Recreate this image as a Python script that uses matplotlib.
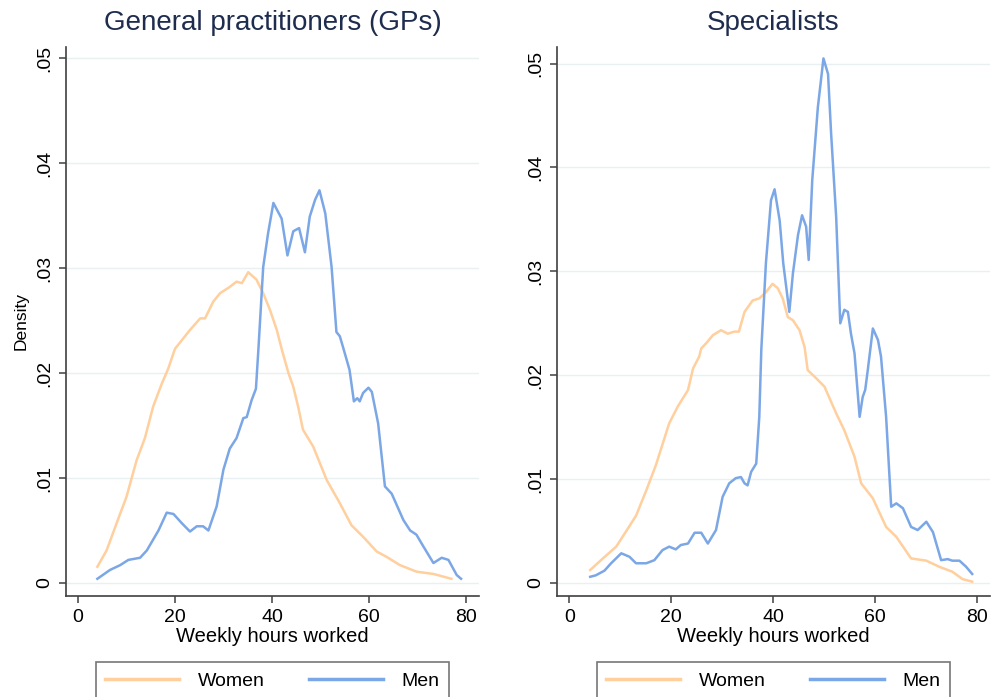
import numpy as np
import matplotlib.pyplot as plt

plt.rcParams['font.family'] = ['Liberation Sans', 'DejaVu Sans']

# GPs, women (weekly hours, density)
gp_w_h = [4.0, 5.9, 8.7, 10.0, 12.1, 13.8, 15.5, 17.3, 18.6, 20.0, 23.1, 25.2, 26.2, 27.9,
          29.3, 31.3, 32.7, 33.8, 35.1, 36.8, 38.2, 39.6, 41.0, 42.0, 43.4, 44.4, 45.4,
          46.4, 48.5, 51.3, 54.0, 56.4, 58.8, 61.6, 63.6, 66.4, 69.8, 73.3, 77.0]
gp_w_d = [0.00155, 0.0031, 0.0066, 0.0082, 0.0117, 0.0138, 0.0168, 0.0190, 0.0204, 0.0223,
          0.0241, 0.0252, 0.0252, 0.0268, 0.0276, 0.0282, 0.0287, 0.02855, 0.0296, 0.0289,
          0.0276, 0.0260, 0.0241, 0.0223, 0.0200, 0.0187, 0.0168, 0.0146, 0.0130, 0.0098,
          0.0076, 0.0055, 0.0044, 0.0030, 0.0025, 0.0017, 0.00108, 0.00086, 0.0004]

# GPs, men
gp_m_h = [4.0, 6.6, 8.7, 10.4, 12.8, 14.2, 16.6, 18.3, 19.7, 21.4, 23.1, 24.5, 25.8, 26.9,
          28.6, 30.0, 31.3, 32.7, 34.1, 34.8, 35.8, 36.7, 37.2, 38.2, 39.2, 40.3, 42.0,
          43.2, 44.4, 45.6, 46.8, 47.8, 48.9, 49.8, 51.0, 52.3, 53.3, 54.0, 54.7, 56.0,
          56.9, 57.6, 58.1, 58.8, 59.9, 60.6, 61.9, 63.3, 64.7, 67.1, 68.5, 69.8, 71.2,
          73.3, 75.0, 76.4, 78.1, 79.0]
gp_m_d = [0.0004, 0.00124, 0.0017, 0.0022, 0.0024, 0.0031, 0.0050, 0.0067, 0.00657, 0.0057,
          0.0049, 0.0054, 0.0054, 0.0050, 0.0073, 0.0108, 0.0128, 0.0138, 0.0157, 0.0158,
          0.0174, 0.0185, 0.0222, 0.0301, 0.0333, 0.0362, 0.0347, 0.0312, 0.0335, 0.0338,
          0.0315, 0.0349, 0.0365, 0.0374, 0.0352, 0.0301, 0.0239, 0.0235, 0.0224, 0.0203,
          0.0173, 0.0176, 0.0173, 0.0181, 0.0186, 0.0182, 0.0152, 0.0092, 0.0085, 0.0060,
          0.0050, 0.0046, 0.0035, 0.0019, 0.0024, 0.0022, 0.00076, 0.0004]

# Specialists, women
sp_w_h = [4.1, 6.6, 9.2, 11.1, 13.1, 15.1, 17.0, 19.6, 21.3, 23.3, 24.3, 25.5, 25.9, 26.9,
          28.2, 29.8, 31.1, 32.4, 33.3, 34.4, 36.0, 37.3, 38.6, 39.9, 40.9, 41.9, 42.9,
          43.9, 45.2, 46.2, 46.8, 48.5, 50.1, 52.4, 54.0, 56.0, 57.3, 59.6, 62.2, 64.2,
          67.1, 70.1, 72.6, 75.2, 77.2, 79.1]
sp_w_d = [0.00125, 0.00237, 0.0035, 0.00494, 0.00648, 0.0089, 0.01135, 0.01536, 0.0170,
          0.01857, 0.02066, 0.0218, 0.02258, 0.0231, 0.02386, 0.02434, 0.0240, 0.0242,
          0.0242, 0.0261, 0.0272, 0.0274, 0.0280, 0.0288, 0.0284, 0.0274, 0.0256, 0.0253,
          0.02434, 0.0227, 0.0205, 0.0197, 0.0189, 0.01633, 0.0147, 0.01215, 0.0096,
          0.00815, 0.0054, 0.00445, 0.00237, 0.00215, 0.00157, 0.00109, 0.00038, 0.00013]

# Specialists, men
sp_m_h = [4.1, 5.2, 6.9, 8.2, 10.2, 11.8, 13.1, 15.1, 16.7, 18.3, 19.6, 20.9, 21.9, 23.3,
          24.6, 25.9, 27.2, 28.8, 30.1, 31.4, 32.7, 33.7, 34.4, 35.0, 35.7, 36.7, 37.3,
          37.7, 38.6, 39.6, 40.3, 41.3, 42.0, 43.2, 43.9, 44.9, 45.7, 46.5, 47.0, 47.7,
          48.8, 49.9, 50.8, 51.4, 52.4, 53.2, 54.0, 54.7, 55.3, 56.0, 57.0, 57.6, 58.1,
          58.6, 59.6, 60.6, 61.2, 62.2, 63.2, 64.2, 65.5, 67.1, 68.4, 70.1, 71.4, 73.0,
          74.3, 75.2, 76.6, 77.9, 79.1]
sp_m_d = [0.0006, 0.00074, 0.00119, 0.0019, 0.00286, 0.00253, 0.0019, 0.0019, 0.0022,
          0.00317, 0.0035, 0.00324, 0.00366, 0.0038, 0.00484, 0.00484, 0.0038, 0.0051,
          0.0083, 0.0096, 0.0101, 0.0102, 0.0096, 0.0094, 0.0107, 0.0115, 0.0160, 0.0225,
          0.0308, 0.03685, 0.0379, 0.0349, 0.0308, 0.0261, 0.0298, 0.0335, 0.0354, 0.0343,
          0.0311, 0.0388, 0.0458, 0.0505, 0.0490, 0.0433, 0.0352, 0.0250, 0.0263, 0.0261,
          0.0240, 0.0221, 0.0160, 0.0179, 0.0186, 0.0205, 0.0245, 0.0234, 0.0218, 0.0160,
          0.00734, 0.00767, 0.0072, 0.0054, 0.0051, 0.0059, 0.0049, 0.0022, 0.0023,
          0.00215, 0.00215, 0.00157, 0.00087]

yticks = [0, 0.01, 0.02, 0.03, 0.04, 0.05]
ytick_labels = ['0', '.01', '.02', '.03', '.04', '.05']
xticks = [0, 20, 40, 60, 80]

women_color = '#ffcf9e'
men_color = '#7ba7e6'
title_color = '#1e2c4e'
axis_color = '#404040'
grid_color = '#e8f0f2'

W, H = 992, 697
fig = plt.figure(figsize=(W / 100, H / 100), dpi=100)
ax1 = fig.add_axes([66 / W, 1 - 596 / H, 413 / W, 549 / H])
ax2 = fig.add_axes([557 / W, 1 - 596 / H, 433 / W, 549 / H])

panels = [
    (ax1, 'General practitioners (GPs)', gp_w_h, gp_w_d, gp_m_h, gp_m_d, (-2.47, 82.7), (-0.00124, 0.05105)),
    (ax2, 'Specialists', sp_w_h, sp_w_d, sp_m_h, sp_m_d, (-2.42, 82.6), (-0.00125, 0.0516)),
]

for ax, title, wh, wd, mh, md, xl, yl in panels:
    for y in yticks:
        if y < yl[1] - 0.001 or ax is ax2:
            ax.axhline(y, color=grid_color, lw=1.0, zorder=0)
    ax.plot(wh, wd, color=women_color, lw=1.8, label='Women', zorder=2)
    ax.plot(mh, md, color=men_color, lw=1.8, label='Men', zorder=3)
    ax.set_xlim(*xl)
    ax.set_ylim(*yl)
    ax.set_xticks(xticks)
    ax.set_yticks(yticks)
    ax.set_yticklabels(ytick_labels, rotation=90, va='center')
    ax.tick_params(labelsize=14, length=5, width=1.1, color=axis_color, pad=4)
    for s in ['top', 'right']:
        ax.spines[s].set_visible(False)
    for s in ['left', 'bottom']:
        ax.spines[s].set_color(axis_color)
        ax.spines[s].set_linewidth(1.2)
    ax.set_title(title, fontsize=20, color=title_color, pad=12)
    ax.set_xlabel('Weekly hours worked', fontsize=14.5, labelpad=1)
    leg = ax.legend(loc='center', bbox_to_anchor=(0.5, (1 - 681 / H - (1 - 596 / H)) / (549 / H)),
                    ncol=2, frameon=True, fancybox=False, fontsize=14,
                    handlelength=3.8, handletextpad=0.95, columnspacing=2.3,
                    borderpad=0.5, borderaxespad=0)
    leg.get_frame().set_edgecolor('#555555')
    leg.get_frame().set_linewidth(1.2)
    for line in leg.get_lines():
        line.set_linewidth(2.5)

ax1.set_ylabel('Density', fontsize=12.5, labelpad=6)

fig.savefig('out.png', dpi=100)
